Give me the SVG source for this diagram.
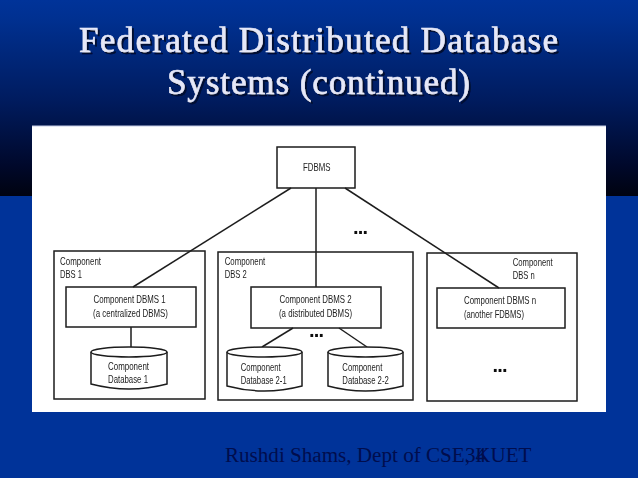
<svg xmlns="http://www.w3.org/2000/svg" width="638" height="478" viewBox="0 0 638 478">
<style>
.box{fill:none;stroke:#1e1e1e;stroke-width:1.5}
.conn{fill:none;stroke:#1e1e1e;stroke-width:1.5}
.cyl{fill:#fff;stroke:#1e1e1e;stroke-width:1.5}
.t{font-family:"Liberation Sans",Arial,sans-serif;font-size:10.5px;fill:#222}
.dots{font-family:"Liberation Sans",Arial,sans-serif;font-size:20px;font-weight:bold;fill:#111}
.title{font-family:"Liberation Serif","Times New Roman",serif;font-size:35px;fill:#e6e8f8;stroke:#e6e8f8;stroke-width:0.6px}
.foot{font-family:"Liberation Serif","Times New Roman",serif;font-size:21.1px;fill:#000d4d}
</style>
<defs>
<linearGradient id="bg" x1="0" y1="0" x2="0" y2="1">
<stop offset="0" stop-color="#003399"/>
<stop offset="0.1" stop-color="#003090"/>
<stop offset="0.5" stop-color="#001c60"/>
<stop offset="0.85" stop-color="#00082a"/>
<stop offset="1" stop-color="#000310"/>
</linearGradient>
<filter id="soft" x="-2%" y="-2%" width="104%" height="104%"><feGaussianBlur stdDeviation="0.4"/></filter>
<filter id="shadow" x="-5%" y="-10%" width="110%" height="125%"><feDropShadow dx="2" dy="2" stdDeviation="0.6" flood-color="#000b30"/></filter>
</defs>
<rect width="638" height="478" fill="#003399"/>
<rect width="638" height="196" fill="url(#bg)"/>
<g id="title" filter="url(#shadow)">
<text class="title" x="79" y="52" textLength="479">Federated Distributed Database</text>
<text class="title" x="167" y="94" textLength="303">Systems (continued)</text>
</g>
<rect id="panel" x="32" y="126" width="574" height="286" fill="#fff"/>
<path d="M32 126H606" stroke="#c4cce6" stroke-width="1" fill="none"/>
<g filter="url(#soft)">
<g id="connectors">
<path class="conn" d="M291 188L133 287"/>
<path class="conn" d="M316 188V287"/>
<path class="conn" d="M345 188L499 288"/>
<path class="conn" d="M131 327V347"/>
<path class="conn" d="M293 328L262 347"/>
<path class="conn" d="M339 328L367 347"/>
</g>
<g id="fdbms">
<rect class="box" x="277" y="147" width="78" height="41"/>
<text class="t" x="303" y="171" textLength="27.500" lengthAdjust="spacingAndGlyphs">FDBMS</text>
</g>
<g id="dbs1">
<rect class="box" x="54" y="251" width="151" height="148"/>
<text class="t" x="60" y="265" textLength="41" lengthAdjust="spacingAndGlyphs">Component</text>
<text class="t" x="60" y="278" textLength="22" lengthAdjust="spacingAndGlyphs">DBS 1</text>
</g>
<g id="dbms1">
<rect class="box" x="66" y="287" width="130" height="40" fill="#fff"/>
<text class="t" x="93.500" y="303" textLength="72" lengthAdjust="spacingAndGlyphs">Component DBMS 1</text>
<text class="t" x="93" y="317" textLength="75" lengthAdjust="spacingAndGlyphs">(a centralized DBMS)</text>
</g>
<g id="db1">
<path class="cyl" d="M91 352V384Q129 394 167 384V352"/>
<ellipse class="cyl" cx="129" cy="352" rx="38" ry="5"/>
<text class="t" x="108" y="370" textLength="41" lengthAdjust="spacingAndGlyphs">Component</text>
<text class="t" x="108" y="383" textLength="40" lengthAdjust="spacingAndGlyphs">Database 1</text>
</g>
<g id="dbs2">
<rect class="box" x="218" y="252" width="195" height="148"/>
<text class="t" x="224.700" y="265" textLength="40.500" lengthAdjust="spacingAndGlyphs">Component</text>
<text class="t" x="224.700" y="278" textLength="22" lengthAdjust="spacingAndGlyphs">DBS 2</text>
</g>
<g id="dbms2">
<rect class="box" x="251" y="287" width="130" height="41" fill="#fff"/>
<text class="t" x="279.500" y="303" textLength="72" lengthAdjust="spacingAndGlyphs">Component DBMS 2</text>
<text class="t" x="279" y="317" textLength="73" lengthAdjust="spacingAndGlyphs">(a distributed DBMS)</text>
</g>
<g id="db21">
<path class="cyl" d="M227 352V386Q264 396 302 386V352"/>
<ellipse class="cyl" cx="264.500" cy="352" rx="37.500" ry="5"/>
<text class="t" x="240.700" y="371" textLength="40" lengthAdjust="spacingAndGlyphs">Component</text>
<text class="t" x="240.700" y="384" textLength="46" lengthAdjust="spacingAndGlyphs">Database 2-1</text>
</g>
<g id="db22">
<path class="cyl" d="M328 352V386Q365 396 403 386V352"/>
<ellipse class="cyl" cx="365.500" cy="352" rx="37.500" ry="5"/>
<text class="t" x="342.300" y="371" textLength="40" lengthAdjust="spacingAndGlyphs">Component</text>
<text class="t" x="342.300" y="384" textLength="46.500" lengthAdjust="spacingAndGlyphs">Database 2-2</text>
</g>
<g id="dbsn">
<rect class="box" x="427" y="253" width="150" height="148"/>
<text class="t" x="512.700" y="266" textLength="40" lengthAdjust="spacingAndGlyphs">Component</text>
<text class="t" x="512.700" y="279" textLength="22" lengthAdjust="spacingAndGlyphs">DBS n</text>
</g>
<g id="dbmsn">
<rect class="box" x="437" y="288" width="128" height="40" fill="#fff"/>
<text class="t" x="464" y="304" textLength="72" lengthAdjust="spacingAndGlyphs">Component DBMS n</text>
<text class="t" x="464" y="318" textLength="60" lengthAdjust="spacingAndGlyphs">(another FDBMS)</text>
</g>
<text class="dots" x="353" y="234" textLength="15">...</text>
<text class="dots" x="309" y="337" textLength="15">...</text>
<text class="dots" x="492.500" y="372" textLength="15">...</text>
</g>
<g id="footer">
<text class="foot" x="225" y="462">Rushdi Shams, Dept of CSE, KUET</text>
<text class="foot" x="465" y="462">34</text>
</g>
</svg>
